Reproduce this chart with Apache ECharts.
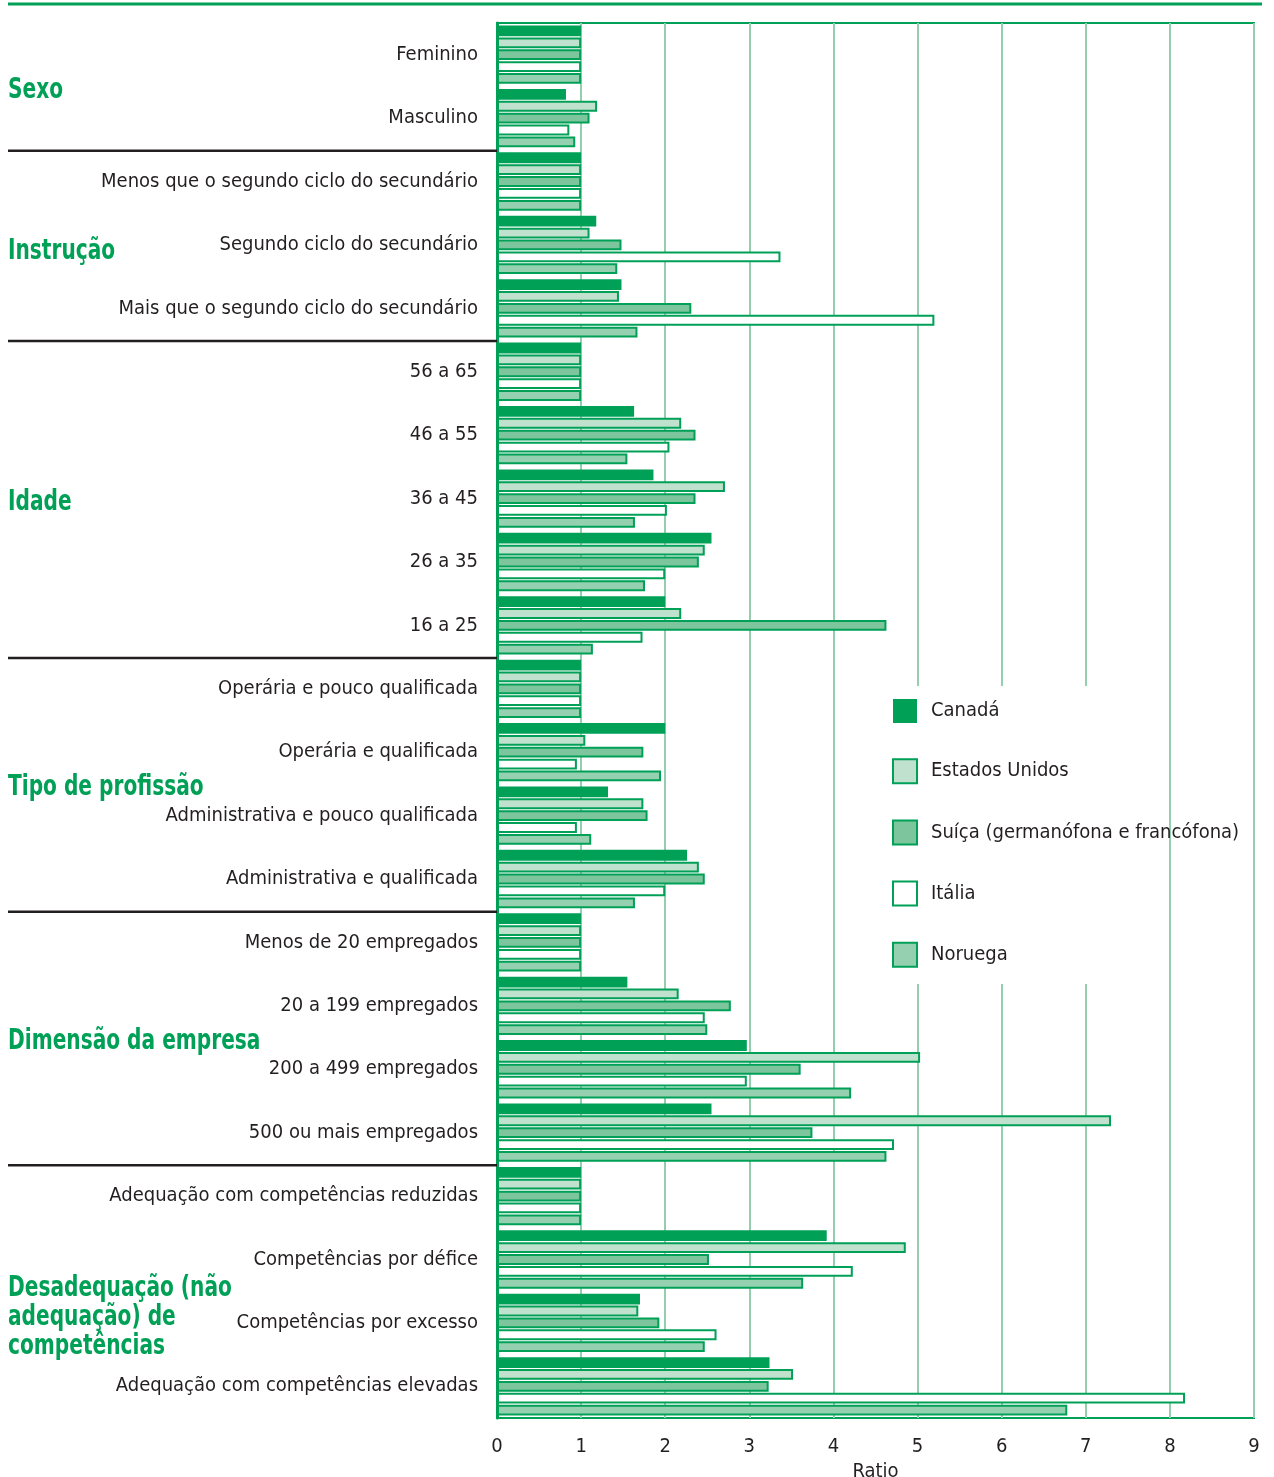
<!DOCTYPE html>
<html><head><meta charset="utf-8">
<script src="https://cdn.jsdelivr.net/npm/echarts@6/dist/echarts.min.js"></script>
<style>html,body{margin:0;padding:0;background:#fff}#c{width:1274px;height:1477px}</style>
</head><body><div id="c"></div>
<script>
const categories = ['Feminino','Masculino','Menos que o segundo ciclo do secundário','Segundo ciclo do secundário','Mais que o segundo ciclo do secundário','56 a 65','46 a 55','36 a 45','26 a 35','16 a 25','Operária e pouco qualificada','Operária e qualificada','Administrativa e pouco qualificada','Administrativa e qualificada','Menos de 20 empregados','20 a 199 empregados','200 a 499 empregados','500 ou mais empregados','Adequação com competências reduzidas','Competências por défice','Competências por excesso','Adequação com competências elevadas'];
const seriesNames = ['Canadá','Estados Unidos','Suíça (germanófona e francófona)','Itália','Noruega'];
const canada = [1,0.82,1,1.18,1.48,1,1.63,1.86,2.55,2.0,1,2.0,1.32,2.26,1,1.55,2.97,2.55,1,3.92,1.70,3.24];
const usa    = [1,1.19,1,1.10,1.45,1,2.19,2.71,2.47,2.19,1,1.05,1.74,2.40,1,2.16,5.03,7.30,1,4.86,1.68,3.52];
const swiss  = [1,1.10,1,1.48,2.31,1,2.36,2.36,2.40,4.63,1,1.74,1.79,2.47,1,2.78,3.61,3.75,1,2.52,1.93,3.23];
const italy  = [1,0.86,1,3.37,5.20,1,2.05,2.02,2.00,1.73,1,0.95,0.95,2.00,1,2.47,2.97,4.72,1,4.23,2.61,8.18];
const norway = [1,0.93,1,1.43,1.67,1,1.55,1.64,1.76,1.14,1,1.95,1.12,1.64,1,2.50,4.21,4.63,1,3.64,2.47,6.78];
const groupNames = ['Sexo','Instrução','Idade','Tipo de profissão','Dimensão da empresa','Desadequação (não\nadequação) de\ncompetências'];
const groupStart = [0,2,5,10,14,18];
const groupEnd   = [1,4,9,13,17,21];
const xTicks = [0,1,2,3,4,5,6,7,8,9];

const GREEN = '#00A057';
const fills = ['#00A057','#C0E1CD','#7DC59D','#FFFFFF','#95D0B0'];
const FONT = "'Liberation Sans Narrow','DejaVu Sans Condensed','Roboto',sans-serif";
const allData = [canada, usa, swiss, italy, norway];

const chart = echarts.init(document.getElementById('c'));
const option = {
  animation:false,
  textStyle:{fontFamily:FONT},
  grid:{left:497,right:20,top:23,bottom:59,show:true,borderColor:GREEN,borderWidth:2,containLabel:false,outerBoundsMode:'none'},
  legend:{
    orient:'vertical', left:892, top:699, padding:0, itemWidth:24, itemHeight:24, itemGap:35.2,
    icon:'rect', textStyle:{fontSize:20,color:'#231f20',fontFamily:FONT,padding:[0,0,0,9]},
    data:seriesNames, z:20
  },
  xAxis:{
    type:'value', min:xTicks[0], max:xTicks[xTicks.length-1], interval:1,
    name:'Ratio', nameLocation:'middle', nameGap:38,
    nameTextStyle:{fontSize:20,color:'#231f20',fontFamily:FONT},
    axisLine:{show:false}, axisTick:{show:false},
    axisLabel:{fontSize:20,color:'#231f20',margin:19,fontFamily:FONT},
    splitLine:{show:true,lineStyle:{color:'#93CFAD',width:2}}
  },
  yAxis:{
    type:'category', data:categories, inverse:true,
    axisLine:{show:true,lineStyle:{color:GREEN,width:3}}, axisTick:{show:false},
    axisLabel:{fontSize:20,color:'#231f20',margin:19,fontFamily:FONT},
    z:10
  },
  series: seriesNames.map((n,i)=>({
    name:n, type:'bar', data:allData[i],
    barCategoryGap:'8%', barGap:'10%',
    itemStyle:{color:fills[i], borderColor:GREEN, borderWidth: i===0?0:2}
  }))
};
chart.setOption(option);

// decorations computed from the axis
const graphics = [];
graphics.push({type:'line', shape:{x1:8,y1:4,x2:1262,y2:4}, style:{stroke:GREEN,lineWidth:3}, z:50});
graphics.push({type:'rect', shape:{x:885,y:686,width:276,height:298}, style:{fill:'#fff'}, z:1, silent:true});
const yc = i => chart.convertToPixel({yAxisIndex:0}, categories[i]);
for (let g=0; g<groupEnd.length-1; g++){
  const y = (yc(groupEnd[g]) + yc(groupEnd[g]+1))/2 + 1;
  graphics.push({type:'line', shape:{x1:8,y1:y,x2:497,y2:y}, style:{stroke:'#231f20',lineWidth:2.5}, z:50});
}
for (let g=0; g<groupNames.length; g++){
  let y = (yc(groupStart[g]) + yc(groupEnd[g]))/2 + 4;
  if (g===1) y += 3;
  if (g===groupNames.length-1) y += 23;
  graphics.push({type:'text', x:8, y:y, scaleX:0.8, style:{text:groupNames[g], fill:GREEN, font:"bold 28px "+FONT, textVerticalAlign:'middle', lineHeight:29}, z:50});
}
chart.setOption({graphic:graphics});
</script>
</body></html>
